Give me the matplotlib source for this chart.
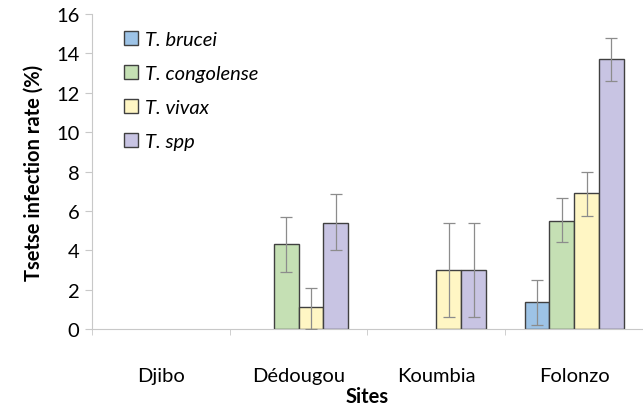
import matplotlib.pyplot as plt
import numpy as np

# Infection rates (%) per site and trypanosome species.
sites = ["Djibo", "Dédougou", "Koumbia", "Folonzo"]
species = ["T. brucei", "T. congolense", "T. vivax", "T. spp"]
brucei = [0.0, 0.0, 0.0, 1.4]
congolense = [0.0, 4.3, 0.0, 5.5]
vivax = [0.0, 1.1, 3.0, 6.9]
spp = [0.0, 5.4, 3.0, 13.7]
# Error bar extents (lower, upper) around each value.
brucei_err = [[0.0, 0.0, 0.0, 1.2], [0.0, 0.0, 0.0, 1.1]]
congolense_err = [[0.0, 1.4, 0.0, 1.1], [0.0, 1.4, 0.0, 1.15]]
vivax_err = [[0.0, 1.1, 2.4, 1.15], [0.0, 1.0, 2.4, 1.1]]
spp_err = [[0.0, 1.4, 2.4, 1.1], [0.0, 1.45, 2.4, 1.1]]
show_err = [[False, False, False, True], [False, True, False, True],
            [False, True, True, True], [False, True, True, True]]

colors = ["#9dc3e6", "#c5e0b4", "#fff6c4", "#c8c4e3"]
values = [brucei, congolense, vivax, spp]
errors = [brucei_err, congolense_err, vivax_err, spp_err]

plt.rcParams["font.family"] = ["Lato", "DejaVu Sans"]
FS = 14.5

fig = plt.figure(figsize=(6.43, 4.06), dpi=100)
ax = fig.add_axes([0.143, 0.187, 0.857, 0.776])

x = np.arange(len(sites))
width = 0.18
for i, (vals, errs, col, name) in enumerate(zip(values, errors, colors, species)):
    pos = x + (i - 1.5) * width
    mask = np.array(vals) > 0
    ax.bar(pos[mask], np.array(vals)[mask], width, color=col,
           edgecolor="#404040", linewidth=1.0, label=name, zorder=2)
    m = np.array(show_err[i])
    lo = np.array(errs[0])[m]
    hi = np.array(errs[1])[m]
    ax.errorbar(pos[m], np.array(vals)[m], yerr=[lo, hi], fmt="none",
                ecolor="#8c8c8c", elinewidth=0.9, capsize=4.5, capthick=0.9,
                zorder=3)

ax.set_xlim(-0.5, 3.5)
ax.set_ylim(0, 16)
ax.set_yticks(range(0, 17, 2))
ax.set_xticks(x)
ax.set_xticklabels(sites, fontsize=FS)
ax.set_xticks(np.arange(-0.5, 3.6, 1.0), minor=True)
ax.tick_params(axis="x", which="major", length=0, pad=27)
ax.tick_params(axis="x", which="minor", length=4, color="#c8c8c8")
ax.tick_params(axis="y", length=5, color="#c8c8c8", labelsize=FS, pad=4)

for side in ["top", "right"]:
    ax.spines[side].set_visible(False)
for side in ["left", "bottom"]:
    ax.spines[side].set_color("#c8c8c8")

ax.set_xlabel("Sites", fontsize=FS, fontweight="bold", labelpad=2)
ax.set_ylabel("Tsetse infection rate (%)", fontsize=FS, fontweight="bold",
              labelpad=9)

leg = ax.legend(loc="upper left", bbox_to_anchor=(0.025, 1.005), frameon=False,
                prop={"style": "italic", "size": FS}, handlelength=0.7,
                handleheight=0.7, handletextpad=0.35, labelspacing=0.85)

fig.savefig("out.png", dpi=100)
